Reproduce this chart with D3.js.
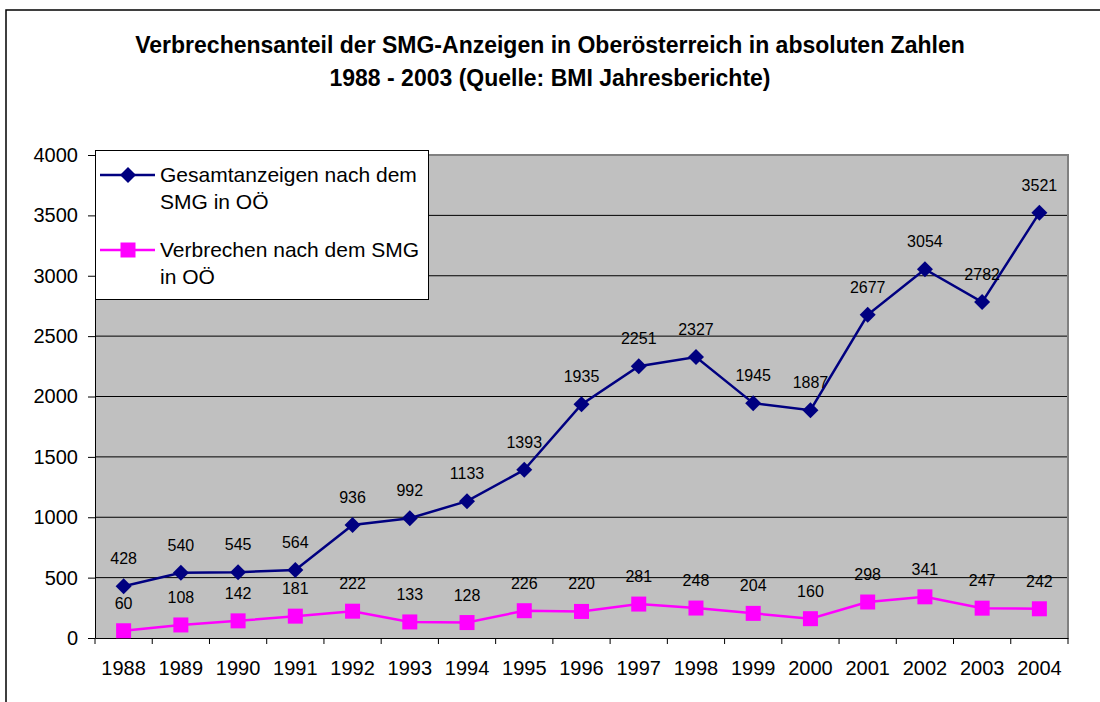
<!DOCTYPE html>
<html>
<head>
<meta charset="utf-8">
<script src="https://cdn.jsdelivr.net/npm/d3@7"></script>
<style>
  body { margin: 0; background: #fff; }
  svg { display: block; font-family: Arial, "Liberation Sans", sans-serif; }
</style>
</head>
<body>
<div id="chart"></div>
<script>
// --- données ---
const years = ["1988","1989","1990","1991","1992","1993","1994","1995","1996","1997","1998","1999","2000","2001","2002","2003","2004"];
const gesamt = [428, 540, 545, 564, 936, 992, 1133, 1393, 1935, 2251, 2327, 1945, 1887, 2677, 3054, 2782, 3521];
const verbrechen = [60, 108, 142, 181, 222, 133, 128, 226, 220, 281, 248, 204, 160, 298, 341, 247, 242];
const yTicks = [0, 500, 1000, 1500, 2000, 2500, 3000, 3500, 4000];
const titleLines = ["Verbrechensanteil der SMG-Anzeigen in Oberösterreich in absoluten Zahlen", "1988 - 2003 (Quelle: BMI Jahresberichte)"];
const legendLines = [["Gesamtanzeigen nach dem", "SMG in OÖ"], ["Verbrechen nach dem SMG", "in OÖ"]];

const width = 1100, height = 702;
const plot = { left: 95, right: 1068, top: 155, bottom: 638 };
const font = "Arial, 'Liberation Sans', sans-serif";

const svg = d3.select("#chart").append("svg")
  .attr("width", width)
  .attr("height", height);

// cadre extérieur
svg.append("path")
  .attr("d", "M6,702 V10 H1100")
  .attr("fill", "none")
  .attr("stroke", "#000")
  .attr("stroke-width", 1.5);

// titre
svg.append("g").selectAll("text")
  .data(titleLines)
  .join("text")
  .attr("x", 550)
  .attr("y", (d, i) => 53 + i * 33)
  .attr("text-anchor", "middle")
  .attr("font-size", 23)
  .attr("font-weight", "bold")
  .text(d => d);

const x = d3.scaleBand().domain(years).range([plot.left, plot.right]);
const y = d3.scaleLinear().domain([0, 4000]).range([plot.bottom, plot.top]);

// fond gris
svg.append("rect")
  .attr("x", plot.left).attr("y", plot.top)
  .attr("width", plot.right - plot.left).attr("height", plot.bottom - plot.top)
  .attr("fill", "#c0c0c0");

// grille
svg.append("g").selectAll("line")
  .data(yTicks.filter(t => t > 0 && t < 4000))
  .join("line")
  .attr("x1", plot.left).attr("x2", plot.right)
  .attr("y1", d => y(d)).attr("y2", d => y(d))
  .attr("stroke", "#000").attr("stroke-width", 1);

// bord gris en haut et à droite
svg.append("path")
  .attr("d", `M${plot.left},${plot.top} H${plot.right} V${plot.bottom}`)
  .attr("fill", "none").attr("stroke", "#808080").attr("stroke-width", 2);

// axe Y
const yAxis = svg.append("g")
  .attr("transform", `translate(${plot.left},0)`)
  .call(d3.axisLeft(y).tickValues(yTicks).tickFormat(d3.format("d")).tickSize(7).tickPadding(10).tickSizeOuter(0));
yAxis.selectAll("text").attr("font-size", 20).attr("fill", "#000").attr("font-family", font);
yAxis.selectAll("line, path").attr("stroke", "#000");

// axe X (traits entre les catégories)
const xAxis = svg.append("g")
  .attr("transform", `translate(0,${plot.bottom})`)
  .call(d3.axisBottom(x).tickSize(0).tickPadding(23));
xAxis.selectAll("text").attr("font-size", 20).attr("fill", "#000").attr("font-family", font);
xAxis.select(".domain").attr("stroke", "#000");
const edges = years.map(yr => x(yr)).concat([plot.right]);
svg.append("g").selectAll("line")
  .data(edges)
  .join("line")
  .attr("x1", d => d).attr("x2", d => d)
  .attr("y1", plot.bottom).attr("y2", plot.bottom + 6)
  .attr("stroke", "#000");

const cx = d => x(d) + x.bandwidth() / 2;
const line = d3.line().x(d => cx(d.year)).y(d => y(d.v));

const series = [
  { values: gesamt, color: "#000080", shape: "diamond" },
  { values: verbrechen, color: "#ff00ff", shape: "square" }
];
const symbol = shape => shape === "diamond"
  ? "M0,-8 L8,0 L0,8 L-8,0 Z"
  : "M-7.5,-7.5 H7.5 V7.5 H-7.5 Z";

series.forEach(s => {
  const pts = years.map((yr, i) => ({ year: yr, v: s.values[i] }));
  svg.append("path")
    .datum(pts)
    .attr("d", line)
    .attr("fill", "none")
    .attr("stroke", s.color)
    .attr("stroke-width", 2.5);
  svg.append("g").selectAll("path")
    .data(pts)
    .join("path")
    .attr("d", symbol(s.shape))
    .attr("transform", d => `translate(${cx(d.year)},${y(d.v)})`)
    .attr("fill", s.color);
  svg.append("g").selectAll("text")
    .data(pts)
    .join("text")
    .attr("x", d => cx(d.year))
    .attr("y", d => y(d.v) - 22)
    .attr("text-anchor", "middle")
    .attr("font-size", 16)
    .attr("fill", "#000")
    .text(d => d.v);
});

// légende
const lg = svg.append("g");
lg.append("rect")
  .attr("x", 95.5).attr("y", 150.5).attr("width", 333).attr("height", 149)
  .attr("fill", "#fff").attr("stroke", "#000").attr("stroke-width", 1);
series.forEach((s, i) => {
  const ly = 175 + i * 75;
  lg.append("line")
    .attr("x1", 100).attr("x2", 155).attr("y1", ly).attr("y2", ly)
    .attr("stroke", s.color).attr("stroke-width", 2.5);
  lg.append("path")
    .attr("d", symbol(s.shape))
    .attr("transform", `translate(128,${ly})`)
    .attr("fill", s.color);
  lg.append("g").selectAll("text")
    .data(legendLines[i])
    .join("text")
    .attr("x", 160)
    .attr("y", (d, j) => ly + 7 + j * 27)
    .attr("font-size", 21)
    .attr("fill", "#000")
    .text(d => d);
});
</script>
</body>
</html>
